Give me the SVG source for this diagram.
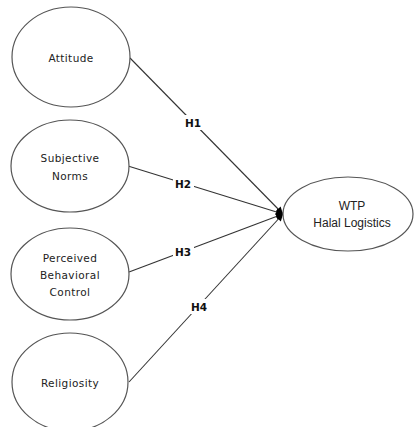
<svg xmlns="http://www.w3.org/2000/svg" width="414" height="427" viewBox="0 0 414 427">
<style>
.node{fill:#fff;stroke:#555;stroke-width:1.2}
.lbl{font-family:"DejaVu Sans",sans-serif;font-size:10.5px;fill:#222;text-anchor:middle;letter-spacing:0.4px}
.wtp{font-family:"Liberation Sans",Arial,sans-serif;font-size:12px;fill:#222;text-anchor:middle}
.edge{stroke:#333;stroke-width:1.1;fill:none;marker-end:url(#ah)}
.h{font-family:"DejaVu Sans",sans-serif;font-weight:bold;font-size:10.5px;fill:#111;text-anchor:middle}
.bg{fill:#fff}
</style>
<defs>
<marker id="ah" viewBox="0 0 10 10" refX="10" refY="5" markerWidth="8" markerHeight="7" markerUnits="userSpaceOnUse" orient="auto">
<path d="M0,0 L10,5 L0,10 z" fill="#000"/>
</marker>
</defs>
<rect width="414" height="427" fill="#fff"/>
<g id="connectors">
<line class="edge" x1="130" y1="58" x2="283" y2="214"/>
<line class="edge" x1="128" y1="166" x2="283" y2="214"/>
<line class="edge" x1="129" y1="272" x2="283" y2="214"/>
<line class="edge" x1="129" y1="382" x2="283" y2="214"/>
<g id="h1"><rect class="bg" x="183" y="115" width="21" height="15"/><text class="h" x="193" y="127">H1</text></g>
<g id="h2"><rect class="bg" x="173" y="176" width="21" height="15"/><text class="h" x="183" y="188">H2</text></g>
<g id="h3"><rect class="bg" x="173" y="244" width="21" height="15"/><text class="h" x="183" y="256">H3</text></g>
<g id="h4"><rect class="bg" x="189" y="299" width="21" height="15"/><text class="h" x="199" y="311">H4</text></g>
</g>
<g id="attitude"><ellipse class="node" cx="71" cy="57" rx="59" ry="50"/><text class="lbl" x="71" y="62">Attitude</text></g>
<g id="subjective-norms"><ellipse class="node" cx="70" cy="166" rx="59" ry="46"/><text class="lbl" x="70" y="162">Subjective</text><text class="lbl" x="70" y="180">Norms</text></g>
<g id="perceived-behavioral-control"><ellipse class="node" cx="70" cy="274" rx="59" ry="46"/><text class="lbl" x="70" y="262">Perceived</text><text class="lbl" x="70" y="279">Behavioral</text><text class="lbl" x="70" y="296">Control</text></g>
<g id="religiosity"><ellipse class="node" cx="70" cy="382" rx="58" ry="49"/><text class="lbl" x="70" y="387">Religiosity</text></g>
<g id="wtp"><ellipse class="node" cx="348" cy="214" rx="65" ry="37"/><text class="wtp" x="352" y="210">WTP</text><text class="wtp" x="352" y="227">Halal Logistics</text></g>
</svg>
